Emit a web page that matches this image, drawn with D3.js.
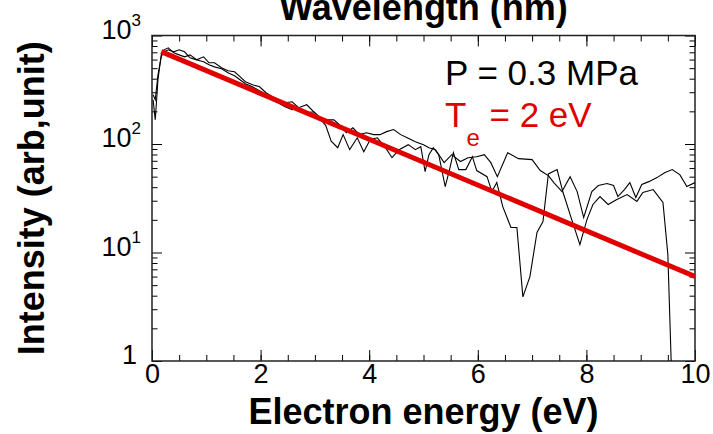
<!DOCTYPE html>
<html>
<head>
<meta charset="utf-8">
<script src="https://cdn.jsdelivr.net/npm/d3@7"></script>
<style>
  body { margin: 0; background: #fff; }
  text { font-family: "Liberation Sans", Arial, sans-serif; }
</style>
</head>
<body>
<div id="chart"></div>
<script>
// spectrum 1 (drops out near 9.6 eV)
const energyA = [0.02, 0.06, 0.11, 0.17, 0.22, 0.30, 0.40, 0.50, 0.60, 0.70, 0.82, 0.95, 1.05, 1.15, 1.28, 1.40, 1.52, 1.62, 1.72, 1.85, 1.98, 2.10, 2.22, 2.32, 2.45, 2.58, 2.70, 2.85, 2.98, 3.08, 3.20, 3.30, 3.42, 3.52, 3.64, 3.78, 3.90, 4.02, 4.15, 4.30, 4.42, 4.55, 4.72, 4.85, 4.95, 5.03, 5.10, 5.18, 5.28, 5.40, 5.48, 5.55, 5.65, 5.78, 5.90, 5.98, 6.17, 6.26, 6.35, 6.46, 6.61, 6.72, 6.83, 6.96, 7.09, 7.20, 7.30, 7.46, 7.57, 7.73, 7.88, 8.01, 8.12, 8.25, 8.40, 8.56, 8.75, 8.93, 9.04, 9.23, 9.41, 9.50, 9.58];
const intensityA = [256, 167, 391, 663, 738, 770, 692, 663, 636, 663, 597, 572, 537, 514, 494, 453, 426, 391, 359, 337, 309, 284, 251, 240, 221, 207, 211, 194, 198, 175, 148, 106, 92.5, 122, 88.7, 114, 85, 110, 114, 92.5, 74.8, 88.7, 98.6, 88.7, 94.5, 55.6, 79.8, 92.5, 79.8, 40.5, 58.1, 83.2, 58.1, 58.1, 76.4, 56.9, 50, 36.4, 44.1, 26.5, 17, 17, 3.9, 6.0, 15.3, 19.3, 53, 58.1, 35.7, 20.1, 11.8, 20.1, 27.7, 32.8, 27.7, 30.8, 34.2, 29.6, 35.7, 38.0, 28.9, 9.6, 0.5];

// spectrum 2 (runs to 10 eV)
const energyB = [0.02, 0.06, 0.11, 0.17, 0.22, 0.30, 0.40, 0.50, 0.60, 0.70, 0.82, 0.95, 1.05, 1.15, 1.28, 1.40, 1.52, 1.62, 1.72, 1.85, 1.98, 2.10, 2.22, 2.32, 2.45, 2.58, 2.70, 2.85, 2.98, 3.10, 3.22, 3.35, 3.45, 3.58, 3.70, 3.82, 3.95, 4.08, 4.20, 4.32, 4.45, 4.58, 4.70, 4.85, 5.00, 5.10, 5.22, 5.38, 5.52, 5.68, 5.82, 5.98, 6.12, 6.24, 6.36, 6.55, 6.75, 7.00, 7.15, 7.30, 7.40, 7.55, 7.70, 7.83, 7.95, 8.10, 8.22, 8.38, 8.50, 8.58, 8.70, 8.80, 8.91, 9.02, 9.15, 9.30, 9.44, 9.58, 9.72, 9.85, 10.0];
const intensityB = [284, 256, 435, 636, 707, 738, 707, 738, 707, 623, 597, 636, 560, 560, 504, 473, 463, 417, 375, 352, 337, 297, 273, 256, 240, 245, 216, 230, 198, 175, 167, 167, 151, 127, 141, 122, 127, 122, 122, 130, 136, 122, 114, 105, 98.6, 92.5, 88.7, 67.3, 79.8, 69, 74.8, 76.4, 79.8, 67.3, 50, 83.2, 73.3, 71.8, 56.9, 51.1, 44.1, 36.4, 50, 36.4, 21, 36.4, 41.4, 43.2, 41.4, 32.8, 38, 44.1, 32.1, 42.3, 45, 49, 54.4, 58.1, 52.2, 40.5, 44.1];

// Te = 2 eV fit line
const fitEnergy = [0.17, 10];
const fitIntensity = [710, 6];

const xTickLabels = [0, 2, 4, 6, 8, 10];
const yDecades = [1, 10, 100, 1000];

const W = 713, H = 434;
const margin = { top: 35.5, right: 18, bottom: 73, left: 152 };
const width = W - margin.left - margin.right;
const height = H - margin.top - margin.bottom;

const svg = d3.select("#chart").append("svg").attr("width", W).attr("height", H);
const g = svg.append("g").attr("transform", `translate(${margin.left},${margin.top})`);

const x = d3.scaleLinear().domain([0, 10]).range([0, width]);
const y = d3.scaleLog().domain([1, 1000]).range([height, 0]);

const minorX = d3.range(0, 10.01, 0.5);
const minorY = [];
yDecades.slice(0, 3).forEach((d) => { for (let k = 2; k < 10; k++) minorY.push(d * k); });

// ticks, all pointing inward
g.append("g").attr("transform", `translate(0,${height})`)
  .call(d3.axisBottom(x).tickValues(minorX).tickSize(-6).tickFormat(""));
g.append("g").attr("transform", `translate(0,${height})`)
  .call(d3.axisBottom(x).tickValues(xTickLabels).tickSize(-11).tickPadding(3).tickFormat(d3.format("d")))
  .selectAll("text").attr("font-size", 27).attr("fill", "#000");
g.append("g").call(d3.axisTop(x).tickValues(minorX).tickSize(-6).tickFormat(""));
g.append("g").call(d3.axisTop(x).tickValues(xTickLabels).tickSize(-11).tickFormat(""));

g.append("g").call(d3.axisLeft(y).tickValues(minorY).tickSize(-5.5).tickFormat(""));
g.append("g").call(d3.axisLeft(y).tickValues(yDecades).tickSize(-10).tickFormat(""));
g.append("g").attr("transform", `translate(${width},0)`)
  .call(d3.axisRight(y).tickValues(minorY).tickSize(-5.5).tickFormat(""));
g.append("g").attr("transform", `translate(${width},0)`)
  .call(d3.axisRight(y).tickValues(yDecades).tickSize(-10).tickFormat(""));

g.selectAll(".domain").remove();
g.selectAll(".tick line").attr("stroke", "#000").attr("stroke-width", 1);

// y tick labels with exponents
yDecades.forEach((d) => {
  const exp = Math.round(Math.log10(d));
  const t = g.append("text").attr("text-anchor", "end").attr("font-size", 27).attr("y", y(d) + 3);
  if (exp === 0) {
    t.attr("x", -15).text("1");
  } else {
    t.attr("x", -11);
    t.append("tspan").text("10");
    t.append("tspan").attr("font-size", 17).attr("dy", -13).text(exp);
  }
});

// frame
g.append("rect").attr("width", width).attr("height", height)
  .attr("fill", "none").attr("stroke", "#222").attr("stroke-width", 1.5);

g.append("clipPath").attr("id", "clip").append("rect").attr("width", width).attr("height", height);

const line = d3.line().x((d) => x(d[0])).y((d) => y(d[1]));

const plot = g.append("g").attr("clip-path", "url(#clip)");
plot.append("path").datum(d3.zip(energyA, intensityA)).attr("d", line)
  .attr("fill", "none").attr("stroke", "#000").attr("stroke-width", 1.1);
plot.append("path").datum(d3.zip(energyB, intensityB)).attr("d", line)
  .attr("fill", "none").attr("stroke", "#000").attr("stroke-width", 1.1);
plot.append("path").datum(d3.zip(fitEnergy, fitIntensity)).attr("d", line)
  .attr("fill", "none").attr("stroke", "#e00000").attr("stroke-width", 5);

// annotations
svg.append("text").attr("x", 445).attr("y", 85).attr("font-size", 35).text("P = 0.3 MPa");
const te = svg.append("text").attr("x", 445).attr("y", 127).attr("font-size", 35).attr("fill", "#e00000");
te.append("tspan").text("T");
te.append("tspan").attr("font-size", 24).attr("dy", 19).text("e");
te.append("tspan").attr("dy", -19).text(" = 2 eV");

// titles
svg.append("text").attr("x", margin.left + width / 2).attr("y", 20).attr("text-anchor", "middle")
  .attr("font-size", 36).attr("font-weight", "bold").text("Wavelength (nm)");
svg.append("text").attr("x", margin.left + width / 2).attr("y", 424).attr("text-anchor", "middle")
  .attr("font-size", 36).attr("font-weight", "bold").text("Electron energy (eV)");
svg.append("text").attr("transform", `translate(44,${margin.top + height / 2}) rotate(-90)`)
  .attr("text-anchor", "middle").attr("font-size", 36).attr("font-weight", "bold").text("Intensity (arb,unit)");
</script>
</body>
</html>
